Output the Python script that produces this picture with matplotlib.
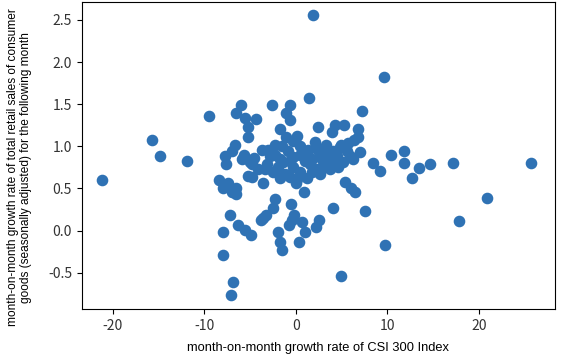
import matplotlib
matplotlib.use("Agg")
import matplotlib.pyplot as plt

plt.rcParams['axes.unicode_minus'] = False

# month-on-month growth rate of CSI 300 Index (%)
csi300_mom = [
    1.86, 9.61, 1.42, -9.50, -6.00, -6.55, -5.57, -4.37, -5.24, -5.24,
    -2.62, -0.66, -1.09, -0.66, -1.75, -1.09, 0.11, 2.40, 7.21, 4.26,
    5.24, 3.93, 6.77, 6.77, 6.33, 4.91, 5.68, -15.72, -14.85, -11.90,
    -6.66, -6.99, -7.75, -5.68, -4.59, -2.29, -1.53, 0.44, -0.33, 2.29,
    11.79, 10.37, 6.99, 2.40, 4.04,
    8.41, 9.17, 11.79, 13.43, 14.63, 12.66, 17.14, 25.66, 20.85, 17.79,
    9.72, 4.91, 7.53, 4.04, 5.35, 6.00, 6.44, -0.55, -0.22, -0.76,
    0.66, 0.98, 0.33, 2.51, 2.18, -1.53, -1.75, -1.97, 0.87, 0.00,
    2.62, -2.29, -2.51, -3.60, -3.82, -3.28, -4.91, -5.57, -6.33, -7.21,
    -7.97, -7.97, -6.88, -7.10, -0.44, -21.18, -8.41, -7.97, -7.42, -6.55,
    -6.55, -6.99, -5.24, -3.60, -7.64, -5.90, -5.02,
    2.84, -2.84, -1.75, -0.33, 1.31, -3.17, -1.97, -0.33, 1.53, 2.95,
    -4.80, 4.80, 5.57, 3.38, 4.48, 5.90, 4.04, 5.13, 2.95, 6.22,
    0.44, 1.20, 2.29, 0.11, -3.38, -4.80, -1.42, -2.51,
    -0.87, 1.75, -1.20, 3.71, -3.71, 0.98, 2.07, -0.66, -3.06, 3.28,
    -4.15, -0.66, -1.75, 1.75, 0.44, -2.29, 2.62, 4.59, 1.31,
]

# month-on-month growth rate of retail sales (seasonally adjusted), next month (%)
retail_mom_next = [
    2.56, 1.82, 1.57, 1.36, 1.49, 1.40, 1.33, 1.32, 1.23, 1.11,
    1.49, 1.49, 1.39, 1.31, 1.21, 1.11, 1.12, 1.23, 1.42, 1.25,
    1.25, 1.17, 1.21, 1.11, 1.07, 1.01, 1.04, 1.07, 0.89, 0.82,
    1.01, 0.95, 0.88, 0.90, 0.86, 1.01, 1.00, 1.00, 1.06, 0.98,
    0.95, 0.90, 0.93, 0.96, 0.95,
    0.80, 0.71, 0.80, 0.74, 0.79, 0.62, 0.80, 0.80, 0.39, 0.12,
    -0.17, -0.54, 0.23, 0.27, 0.58, 0.50, 0.46, 0.32, 0.19, 0.07,
    0.10, -0.02, -0.13, 0.13, 0.04, -0.23, -0.13, -0.02, 0.46, 0.57,
    0.67, 0.37, 0.27, 0.15, 0.13, 0.19, -0.05, 0.01, 0.07, 0.18,
    -0.02, -0.29, -0.61, -0.76, 0.13, 0.60, 0.60, 0.51, 0.57, 0.51,
    0.43, 0.46, 0.65, 0.56, 0.79, 0.85, 0.81,
    0.93, 0.88, 0.85, 0.87, 0.88, 0.79, 0.76, 0.75, 0.79, 0.82,
    0.79, 0.99, 0.94, 0.88, 0.88, 0.88, 0.81, 0.81, 0.76, 0.85,
    0.70, 0.63, 0.73, 0.61, 0.73, 0.64, 0.81, 0.70,
    0.94, 0.85, 0.67, 0.73, 0.96, 0.82, 1.05, 0.82, 0.96, 1.01,
    0.73, 0.64, 0.63, 0.70, 0.90, 0.90, 0.87, 0.75, 0.96,
]

fig = plt.figure(figsize=(5.64, 3.61), dpi=100)
ax = fig.add_axes([0.145, 0.144, 0.839, 0.85])
ax.scatter(csi300_mom, retail_mom_next, s=54, color='#2f72b4')

ax.set_xlim(-23.4, 28.3)
ax.set_ylim(-0.93, 2.71)
ax.set_xticks([-20, -10, 0, 10, 20])
ax.set_yticks([-0.5, 0.0, 0.5, 1.0, 1.5, 2.0, 2.5])
for lab in ax.get_xticklabels() + ax.get_yticklabels():
    lab.set_family(['Noto Sans CJK SC', 'DejaVu Sans'])
    lab.set_fontsize(10)
    lab.set_color('#333333')

ax.set_xlabel("month-on-month growth rate of CSI 300 Index",
              fontsize=9.3, family='Liberation Sans')
ax.set_ylabel("month-on-month growth rate of total retail sales of consumer\n"
              "goods (seasonally adjusted) for the following month",
              fontsize=8.6, family='Liberation Sans', linespacing=1.1)
ax.yaxis.set_label_coords(-0.105, 0.462)
ax.xaxis.set_label_coords(0.5, -0.108)

fig.savefig("out.png", dpi=100)
